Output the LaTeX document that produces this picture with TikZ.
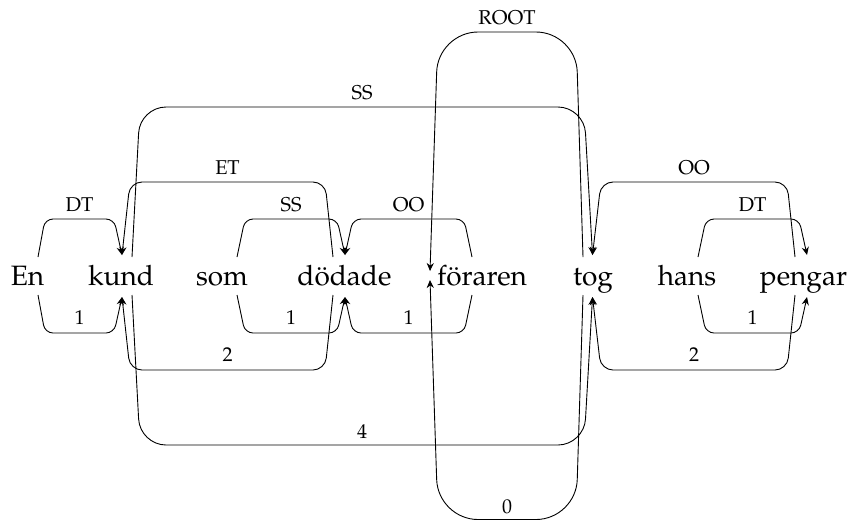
\documentclass[tikz,border=0pt]{standalone}
\usepackage[T1]{fontenc}
\usepackage{mathpazo}
\usetikzlibrary{arrows.meta}
\begin{document}
\begin{tikzpicture}[x=0.5pt,y=-0.5pt,
  word/.style={font=\fontsize{14}{16}\selectfont, anchor=base, inner sep=0pt},
  lab/.style={font=\fontsize{10}{12}\selectfont, inner sep=0pt},
  dep/.style={draw, line width=0.45pt, -{Stealth[length=4pt,width=3.6pt]}, rounded corners=#1},
  dep/.default=4pt]
\useasboundingbox (0,0) rectangle (855,521);
% words
\node[word] (w1) at (27.5,285) {En};
\node[word] (w2) at (121,285) {kund};
\node[word] (w3) at (222,285) {som};
\node[word] (w4) at (344.5,285) {dödade};
\node[word] (w5) at (482,285) {föraren};
\node[word] (w6) at (593,285) {tog};
\node[word] (w7) at (687,285) {hans};
\node[word] (w8) at (803.5,285) {pengar};
% anchor points (top: t, bottom: b; s = start, a = arrow end)
\coordinate (w1ts) at (38,257);  \coordinate (w1bs) at (38,295);
\coordinate (w2ta) at (122,255); \coordinate (w2ba) at (122,297);
\coordinate (w2ts) at (132,257); \coordinate (w2bs) at (132,295);
\coordinate (w3ts) at (237,257); \coordinate (w3bs) at (237,295);
\coordinate (w4ts) at (333,257); \coordinate (w4bs) at (333,295);
\coordinate (w4ta) at (345,255); \coordinate (w4ba) at (345,297);
\coordinate (w5ta) at (430,271); \coordinate (w5ba) at (430,280);
\coordinate (w5ts) at (472,257); \coordinate (w5bs) at (472,295);
\coordinate (w6ts) at (583,257); \coordinate (w6bs) at (583,295);
\coordinate (w6ta) at (592.5,255); \coordinate (w6ba) at (592.5,297);
\coordinate (w7ts) at (698,257); \coordinate (w7bs) at (698,295);
\coordinate (w8ts) at (795,257); \coordinate (w8bs) at (795,295);
\coordinate (w8ta) at (807,255); \coordinate (w8ba) at (807,297);
% ---- upper edges ----
\draw[dep] (w1ts) -- (45,219) -- node[lab,above=3.5pt] (l1) {DT} (114,219) -- (w2ta);
\draw[dep=6pt] (w4ts) -- (325,182) -- node[lab,above=3.5pt] (l2) {ET} (130,182) -- (w2ta);
\draw[dep=13pt] (w2ts) -- (140,107) -- node[lab,above=3.5pt] (l3) {SS} (584,107) -- (w6ta);
\draw[dep] (w3ts) -- (245,219) -- node[lab,above=3.5pt] (l4) {SS} (337,219) -- (w4ta);
\draw[dep] (w5ts) -- (464,219) -- node[lab,above=3.5pt] (l5) {OO} (353,219) -- (w4ta);
\draw[dep=20pt] (w6ts) -- (576,32) -- node[lab,above=3.5pt] (l6) {ROOT} (438,32) -- (w5ta);
\draw[dep=6pt] (w8ts) -- (787,182) -- node[lab,above=3.5pt] (l7) {OO} (601,182) -- (w6ta);
\draw[dep] (w7ts) -- (706,219) -- node[lab,above=3.5pt] (l8) {DT} (799,219) -- (w8ta);
% ---- lower edges ----
\draw[dep] (w1bs) -- (45,333) -- node[lab,above=4pt] (m1) {1} (114,333) -- (w2ba);
\draw[dep] (w3bs) -- (245,333) -- node[lab,above=4pt] (m2) {1} (337,333) -- (w4ba);
\draw[dep] (w5bs) -- (464,333) -- node[lab,above=4pt] (m3) {1} (353,333) -- (w4ba);
\draw[dep=6pt] (w4bs) -- (325,370) -- node[lab,above=4pt] (m4) {2} (130,370) -- (w2ba);
\draw[dep=13pt] (w2bs) -- (140,445) -- node[lab,above=3pt] (m5) {4} (584,445) -- (w6ba);
\draw[dep=20pt] (w6bs) -- (576,519.5) -- node[lab,above=2.5pt] (m6) {0} (438,519.5) -- (w5ba);
\draw[dep=6pt] (w8bs) -- (787,370) -- node[lab,above=4pt] (m7) {2} (601,370) -- (w6ba);
\draw[dep] (w7bs) -- (706,333) -- node[lab,above=4pt] (m8) {1} (799,333) -- (w8ba);
\end{tikzpicture}
\end{document}
